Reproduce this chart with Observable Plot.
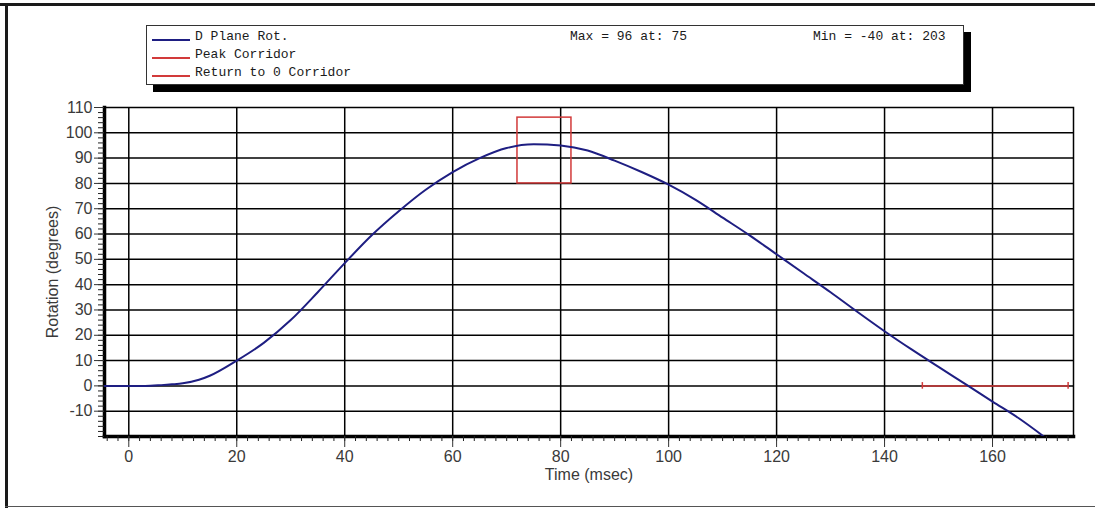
<!DOCTYPE html>
<html>
<head>
<meta charset="utf-8">
<script src="https://cdn.jsdelivr.net/npm/d3@7"></script>
<script src="https://cdn.jsdelivr.net/npm/@observablehq/plot@0.6"></script>
<style>
  html, body { margin: 0; padding: 0; background: #fff; }
  #wrap { position: relative; width: 1095px; height: 508px; overflow: hidden; background: #fff; }
  #chart { position: absolute; left: 0; top: 0; }
  .frameTop { position: absolute; left: 0; top: 3px; width: 1095px; height: 3px; background: #1a1a1a; }
  .frameLeft { position: absolute; left: 5px; top: 3px; width: 3px; height: 505px; background: #1a1a1a; }
  .frameBottom { position: absolute; left: 5px; top: 506px; width: 1090px; height: 1px; background: #555; }
  #legend { position: absolute; left: 146px; top: 25px; width: 816px; height: 58px; background: #fff;
            border: 1px solid #333; box-shadow: 7px 7px 0 #000;
            font-family: "Courier New", "Liberation Mono", monospace; font-size: 13px; color: #1a1a1a; }
  #legend .row { position: absolute; left: 0; height: 18px; line-height: 18px; white-space: pre; }
  #legend .sw { position: absolute; left: 5px; width: 38px; height: 1.5px; }
  #legend .lab { position: absolute; left: 48px; top: 0; }
  #legend .stat { position: absolute; top: 0; white-space: pre; }
</style>
</head>
<body>
<div id="wrap">
  <div id="chart"></div>
  <div class="frameTop"></div>
  <div class="frameLeft"></div>
  <div class="frameBottom"></div>
  <div id="legend"></div>
</div>
<script>
// ---- data ----
const time = [-4.5, 0, 3, 6, 8, 10, 13, 15, 20, 25, 30, 35, 40, 45, 50, 55, 60, 65, 70, 75, 80, 85, 90, 95, 100, 105, 110, 115, 120, 125, 130, 135, 140, 145, 150, 155.5, 160, 165, 169.5];
const rotation = [0, 0, 0, 0.3, 0.6, 1, 2.4, 4, 10, 17, 26, 37, 48.5, 59.5, 69, 77.5, 84.5, 90, 94, 95.5, 95, 93, 89, 84.5, 79.5, 73.5, 66.5, 59.5, 52, 44.5, 37, 29.2, 21.6, 14.4, 7.5, 0, -6.2, -13, -20];
const seriesNames = ["D Plane Rot.", "Peak Corridor", "Return to 0 Corridor"];
const seriesColors = ["#1e1e82", "#d23a3a", "#d23a3a"];
const peakCorridorTime = [72, 82];
const peakCorridorRot = [80, 106];
const returnCorridorTime = [147, 174];
const returnCorridorRot = 0;
const statsText = ["Max = 96 at: 75", "Min = -40 at: 203"];
const xMajor = [0, 20, 40, 60, 80, 100, 120, 140, 160];
const yMajor = [-10, 0, 10, 20, 30, 40, 50, 60, 70, 80, 90, 100, 110];
const xMinor = d3.range(-4, 175, 2);
const yMinor = d3.range(-20, 111, 2);

// ---- derived tables ----
const curve = time.map((t, i) => ({t, r: rotation[i]}));
const peakBox = [{x1: peakCorridorTime[0], x2: peakCorridorTime[1], y1: peakCorridorRot[0], y2: peakCorridorRot[1]}];

const font = "'Liberation Sans', Arial, sans-serif";
const chart = Plot.plot({
  width: 1095,
  height: 508,
  marginLeft: 104,
  marginRight: 22,
  marginTop: 107,
  marginBottom: 72,
  style: {fontFamily: font, fontSize: "16px", color: "#333", background: "transparent"},
  x: {domain: [-4.5, 175]},
  y: {domain: [-20, 110]},
  marks: [
    Plot.gridX(xMajor, {stroke: "#000", strokeOpacity: 1, strokeWidth: 1.5}),
    Plot.gridY(yMajor.filter(v => v < 110), {stroke: "#000", strokeOpacity: 1, strokeWidth: 1.5}),
    Plot.frame({stroke: "#000", strokeWidth: 1.5}),
    Plot.frame({anchor: "left", stroke: "#000", strokeWidth: 3.5}),
    Plot.frame({anchor: "bottom", stroke: "#000", strokeWidth: 3.5}),
    Plot.axisY(yMinor, {tickSize: 6, text: null, label: null, stroke: "#222"}),
    Plot.axisY(yMajor, {tickSize: 10, tickPadding: 2, label: null, fill: "#3a3a3a", fontSize: 16, tickFormat: d => String(d)}),
    Plot.axisX(xMinor, {tickSize: 5, text: null, label: null, stroke: "#222"}),
    Plot.axisX(xMajor, {tickSize: 11, tickPadding: 3, label: null, fill: "#3a3a3a", fontSize: 16, tickFormat: d => String(d)}),
    Plot.text(["Rotation (degrees)"], {frameAnchor: "left", dx: -52, rotate: -90, textAnchor: "middle", fill: "#3a3a3a", fontSize: 16}),
    Plot.text(["Time (msec)"], {frameAnchor: "bottom", dy: 43, textAnchor: "middle", fill: "#3a3a3a", fontSize: 16}),
    Plot.rect(peakBox, {x1: "x1", x2: "x2", y1: "y1", y2: "y2", fill: "none", stroke: seriesColors[1], strokeWidth: 1.5}),
    Plot.ruleY([returnCorridorRot], {x1: returnCorridorTime[0], x2: returnCorridorTime[1], stroke: seriesColors[2], strokeWidth: 1.5}),
    Plot.ruleX(returnCorridorTime, {y1: returnCorridorRot - 1.3, y2: returnCorridorRot + 1.3, stroke: seriesColors[2], strokeWidth: 1.5}),
    Plot.line(curve, {x: "t", y: "r", stroke: seriesColors[0], strokeWidth: 2, curve: "monotone-x", clip: true})
  ]
});
document.getElementById("chart").appendChild(chart);

// ---- legend ----
const legend = document.getElementById("legend");
const rowTops = [2, 20, 38];
seriesNames.forEach((name, i) => {
  const row = document.createElement("div");
  row.className = "row";
  row.style.top = rowTops[i] + "px";
  row.style.width = "100%";
  const sw = document.createElement("div");
  sw.className = "sw";
  sw.style.top = "11px";
  sw.style.background = seriesColors[i];
  const lab = document.createElement("span");
  lab.className = "lab";
  lab.textContent = name;
  row.appendChild(sw);
  row.appendChild(lab);
  if (i === 0) {
    [423, 666].forEach((left, k) => {
      const s = document.createElement("span");
      s.className = "stat";
      s.style.left = left + "px";
      s.textContent = statsText[k];
      row.appendChild(s);
    });
  }
  legend.appendChild(row);
});
</script>
</body>
</html>
